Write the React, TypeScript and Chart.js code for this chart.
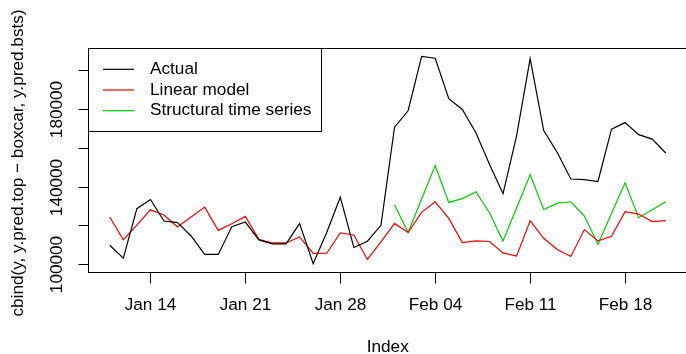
import { useEffect, useRef } from "react";
import { Chart, registerables } from "chart.js";

Chart.register(...registerables);

// Daily observations, Jan 11 – Feb 21
const dates = [
  "Jan 11", "Jan 12", "Jan 13", "Jan 14", "Jan 15", "Jan 16", "Jan 17",
  "Jan 18", "Jan 19", "Jan 20", "Jan 21", "Jan 22", "Jan 23", "Jan 24",
  "Jan 25", "Jan 26", "Jan 27", "Jan 28", "Jan 29", "Jan 30", "Jan 31",
  "Feb 01", "Feb 02", "Feb 03", "Feb 04", "Feb 05", "Feb 06", "Feb 07",
  "Feb 08", "Feb 09", "Feb 10", "Feb 11", "Feb 12", "Feb 13", "Feb 14",
  "Feb 15", "Feb 16", "Feb 17", "Feb 18", "Feb 19", "Feb 20", "Feb 21",
];

const actual = [
  109700, 103100, 128600, 133300, 122200, 121400, 114500,
  105000, 105000, 119300, 121700, 112500, 110400, 110400,
  120900, 100200, 116300, 134500, 108600, 111800, 120000,
  170600, 179100, 207200, 206200, 185300, 179800, 167800,
  151500, 136300, 166200, 206000, 168900, 157600, 143900,
  143600, 142600, 169600, 173000, 166800, 164500, 157300,
];

const linearModel = [
  124300, 112500, 120150, 128000, 125300, 119150, 124300,
  129400, 117400, 120850, 124600, 112800, 110900, 110900,
  114000, 105500, 105600, 116100, 115000, 102400, 111500,
  121000, 116300, 126700, 132150, 123600, 111100, 111950,
  111650, 105800, 104100, 122400, 113300, 107500, 103950,
  117800, 111950, 114350, 127000, 125800, 121900, 122400,
];

const structuralTs = [
  null, null, null, null, null, null, null,
  null, null, null, null, null, null, null,
  null, null, null, null, null, null, null,
  130600, 116300, 133600, 150800, 131800, 133800, 137300,
  126500, 111950, 128900, 146150, 128200, 131450, 132150,
  124800, 110250, 126150, 141900, 123950, 128050, 132150,
];

const seriesNames = ["Actual", "Linear model", "Structural time series"];
const xTickLabels = ["Jan 14", "Jan 21", "Jan 28", "Feb 04", "Feb 11", "Feb 18"];
const yTicks = [100000, 120000, 140000, 160000, 180000, 200000];
const yTickLabels = ["100000", "", "140000", "", "180000", ""];
const xTitle = "Index";
const yTitle = "cbind(y, y.pred.top \u2212 boxcar, y.pred.bsts)";

const FONT = '"Liberation Sans", Arial, Helvetica, sans-serif';
const FONT_SIZE = 17.2;

function toPoints(values: (number | null)[]) {
  return values.map((v, i) => ({ x: i, y: v }));
}

// R-style 4% range extension
function padRange(lo: number, hi: number) {
  const d = (hi - lo) * 0.04;
  return [lo - d, hi + d];
}

const allY = [...actual, ...linearModel, ...structuralTs].filter(
  (v): v is number => v !== null
);
const [yMin, yMax] = padRange(Math.min(...allY), Math.max(...allY));
const [xMin, xMax] = padRange(0, dates.length - 1);

const colors = ["#000000", "#FF0000", "#00CD00"];

const basePlotPlugin = {
  id: "basePlot",
  afterDatasetsDraw(chart: any) {
    const { ctx, chartArea, scales } = chart;
    const xs = scales.x;
    const ys = scales.y;
    const L = Math.round(chartArea.left) + 0.5;
    const T = Math.round(chartArea.top) + 0.5;
    const B = Math.round(chartArea.bottom) + 0.5;
    const R = Math.round(chartArea.right) + 0.5;

    ctx.save();
    ctx.strokeStyle = "#000";
    ctx.fillStyle = "#000";
    ctx.lineWidth = 1;

    // plot frame
    ctx.strokeRect(L, T, R - L, B - T);

    ctx.font = `${FONT_SIZE}px ${FONT}`;

    // y axis ticks and labels (labels drawn parallel to the axis)
    yTicks.forEach((v, i) => {
      const py = Math.round(ys.getPixelForValue(v)) + 0.5;
      ctx.beginPath();
      ctx.moveTo(L - 10, py);
      ctx.lineTo(L, py);
      ctx.stroke();
      if (yTickLabels[i]) {
        ctx.save();
        ctx.translate(57.5, py);
        ctx.rotate(-Math.PI / 2);
        ctx.textAlign = "center";
        ctx.textBaseline = "middle";
        ctx.fillText(yTickLabels[i], 0, 0);
        ctx.restore();
      }
    });

    // x axis ticks and labels
    xTickLabels.forEach((lab) => {
      const px = Math.round(xs.getPixelForValue(dates.indexOf(lab))) + 0.5;
      ctx.beginPath();
      ctx.moveTo(px, B);
      ctx.lineTo(px, B + 11);
      ctx.stroke();
      ctx.textAlign = "center";
      ctx.textBaseline = "middle";
      ctx.fillText(lab, px, 305);
    });

    // axis titles
    ctx.textAlign = "center";
    ctx.textBaseline = "middle";
    ctx.fillText(xTitle, (chartArea.left + 688) / 2, 347);
    ctx.save();
    ctx.translate(18, (chartArea.top + chartArea.bottom) / 2 + 3);
    ctx.rotate(-Math.PI / 2);
    ctx.fillText(yTitle, 0, 0);
    ctx.restore();

    // legend
    const boxR = 321.5;
    const boxB = 131.5;
    ctx.fillStyle = "#fff";
    ctx.fillRect(L, T, boxR - L, boxB - T);
    ctx.strokeRect(L, T, boxR - L, boxB - T);
    const rows = [69.3, 90, 110.7];
    seriesNames.forEach((name, i) => {
      const y = rows[i];
      ctx.strokeStyle = colors[i];
      ctx.lineWidth = 1.2;
      ctx.beginPath();
      ctx.moveTo(103, y);
      ctx.lineTo(134, y);
      ctx.stroke();
      ctx.fillStyle = "#000";
      ctx.textAlign = "left";
      ctx.textBaseline = "middle";
      ctx.fillText(name, 150, y);
    });

    ctx.restore();
  },
};

export default function App() {
  const canvasRef = useRef<HTMLCanvasElement | null>(null);

  useEffect(() => {
    const canvas = canvasRef.current;
    if (!canvas) return;
    const chart = new Chart(canvas, {
      type: "line",
      data: {
        datasets: [
          { label: seriesNames[0], data: toPoints(actual) },
          { label: seriesNames[1], data: toPoints(linearModel) },
          { label: seriesNames[2], data: toPoints(structuralTs) },
        ].map((d, i) => ({
          ...d,
          borderColor: colors[i],
          backgroundColor: colors[i],
          borderWidth: 1.2,
          pointRadius: 0,
          tension: 0,
          fill: false,
          spanGaps: false,
        })),
      },
      options: {
        responsive: false,
        animation: false,
        devicePixelRatio: 1,
        layout: { padding: { left: 87.5, top: 48, right: 700 - 688, bottom: 354 - 272 } },
        plugins: { legend: { display: false }, tooltip: { enabled: false } },
        scales: {
          x: { type: "linear", min: xMin, max: xMax, display: false },
          y: { type: "linear", min: yMin, max: yMax, display: false },
        },
      },
      plugins: [basePlotPlugin],
    });
    return () => chart.destroy();
  }, []);

  return (
    <div
      style={{
        position: "fixed",
        left: 0,
        top: 0,
        width: 686,
        height: 354,
        overflow: "hidden",
        background: "#fff",
      }}
    >
      <canvas ref={canvasRef} width={700} height={354} style={{ display: "block" }} />
    </div>
  );
}
